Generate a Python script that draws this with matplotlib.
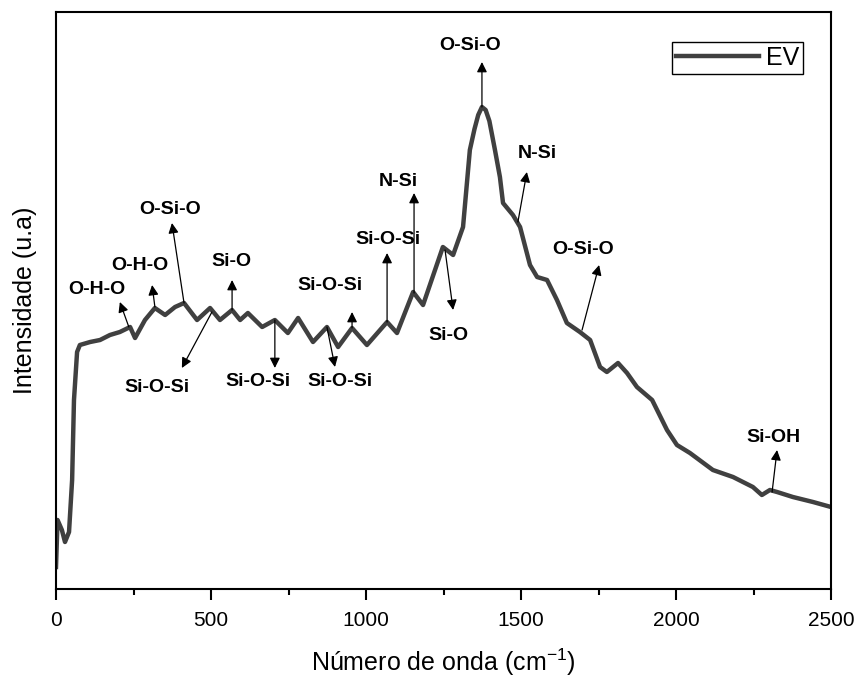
import numpy as np
import matplotlib
matplotlib.use('Agg')
import matplotlib.pyplot as plt

plt.rcParams['font.family'] = ['Liberation Sans', 'DejaVu Sans']
plt.rcParams['mathtext.fontset'] = 'custom'
plt.rcParams['mathtext.rm'] = 'Liberation Sans'
plt.rcParams['mathtext.default'] = 'regular'

# FTIR spectrum, EV sample
wavenumber = [0, 5, 19, 29, 42, 52, 58, 68, 77, 110, 142, 174, 206, 239, 255, 287,
              319, 352, 384, 413, 455, 497, 529, 568, 594, 619, 665, 706, 748, 781,
              829, 874, 910, 955, 1003, 1068, 1100, 1152, 1184, 1248, 1281, 1313,
              1335, 1350, 1362, 1374, 1386, 1398, 1416, 1432, 1442, 1474, 1497, 1529,
              1552, 1584, 1616, 1648, 1690, 1723, 1755, 1777, 1813, 1842, 1874, 1923,
              1971, 2003, 2045, 2119, 2184, 2248, 2277, 2303, 2326, 2377, 2442, 2500]
intensity = [22, 69, 59, 47, 57, 109, 189, 237, 244, 247, 249, 254, 257, 262, 251, 269,
             281, 274, 282, 286, 269, 281, 269, 279, 269, 276, 262, 269, 256, 271,
             247, 262, 242, 261, 244, 267, 256, 297, 284, 342, 334, 362,
             439, 460, 474, 482, 479, 468, 439, 412, 386, 374, 362, 324,
             312, 309, 289, 266, 257, 249, 222, 217, 226, 216, 202, 189,
             159, 144, 136, 119, 112, 102, 94, 99, 97, 92, 87, 82]

# band assignments: label, label position, arrow tail (on curve), arrow head
band_labels = ['O-H-O', 'O-H-O', 'O-Si-O', 'Si-O', 'Si-O-Si', 'Si-O-Si', 'Si-O-Si',
               'Si-O-Si', 'Si-O-Si', 'N-Si', 'Si-O', 'O-Si-O', 'N-Si', 'O-Si-O', 'Si-OH']
label_xy = [(132, 299), (271, 324), (368, 379), (565, 327), (326, 201), (652, 207),
            (916, 207), (884, 304), (1071, 349), (1103, 407), (1265, 253), (1335, 544),
            (1552, 436), (1700, 339), (2313, 151)]
arrow_tail = [(235, 262), (319, 282), (413, 286), (568, 279), (503, 277), (706, 269),
              (874, 262), (955, 261), (1068, 267), (1155, 296), (1255, 339), (1374, 482),
              (1490, 367), (1697, 259), (2310, 97)]
arrow_head = [(206, 287), (310, 304), (374, 366), (568, 309), (406, 221), (706, 221),
              (900, 222), (955, 277), (1068, 336), (1155, 396), (1281, 279), (1374, 527),
              (1519, 417), (1752, 324), (2326, 139)]

fig = plt.figure(figsize=(8.61, 6.82), dpi=100)
ax = fig.add_axes([56 / 861, 1 - 589 / 682, 775 / 861, 577 / 682])

ax.plot(wavenumber, intensity, color='#404040', lw=3.2, label='EV', solid_joinstyle='round')

for lab, txy, tail, head in zip(band_labels, label_xy, arrow_tail, arrow_head):
    ax.annotate('', xy=head, xytext=tail,
                arrowprops=dict(arrowstyle='-|>', lw=0.9, color='black',
                                mutation_scale=15, shrinkA=0, shrinkB=0))
    ax.text(txy[0], txy[1], lab, ha='center', va='center', fontsize=14,
            fontweight='bold', color='black')

ax.set_xlim(0, 2500)
ax.set_ylim(0, 577)
ax.set_xticks([0, 500, 1000, 1500, 2000, 2500])
ax.set_xticks([250, 750, 1250, 1750, 2250], minor=True)
ax.set_yticks([])
ax.tick_params(axis='x', which='major', direction='out', length=8, width=1.5,
               labelsize=15, pad=8)
ax.tick_params(axis='x', which='minor', direction='out', length=4, width=1.5)
for sp in ax.spines.values():
    sp.set_linewidth(1.5)

ax.set_xlabel('Número de onda (cm$^{-1}$)', fontsize=18, labelpad=12)
ax.set_ylabel('Intensidade (u.a)', fontsize=18, labelpad=14)

leg = ax.legend(loc='upper right', fontsize=18, fancybox=False, framealpha=1,
                edgecolor='black', handlelength=3.3, borderpad=0.15,
                bbox_to_anchor=(0.964, 0.948), handletextpad=0.3, borderaxespad=0)
leg.get_frame().set_linewidth(1.0)

fig.savefig('out.png', dpi=100)
